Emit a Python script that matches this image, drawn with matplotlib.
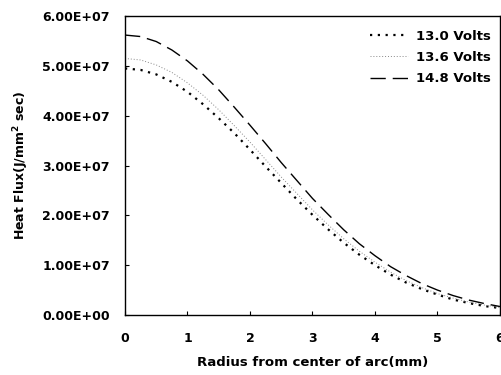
import numpy as np
import matplotlib
matplotlib.use('Agg')
import matplotlib.pyplot as plt
from matplotlib.ticker import FuncFormatter

plt.rcParams['font.family'] = ['DejaVu Sans']
plt.rcParams['font.weight'] = 'bold'

radius = [0, 0.25, 0.5, 0.75, 1, 1.25, 1.5, 1.75, 2, 2.25, 2.5, 2.75, 3,
          3.25, 3.5, 3.75, 4, 4.25, 4.5, 4.75, 5, 5.25, 5.5, 5.75, 6]
# heat flux in units of 1e7
flux_130 = [4.95, 4.92, 4.83, 4.68, 4.48, 4.23, 3.95, 3.65, 3.32, 2.98, 2.65, 2.32, 2.01,
            1.72, 1.45, 1.21, 1.00, 0.81, 0.65, 0.52, 0.41, 0.31, 0.24, 0.18, 0.14]
flux_136 = [5.15, 5.12, 5.02, 4.87, 4.66, 4.41, 4.12, 3.80, 3.47, 3.12, 2.77, 2.44, 2.11,
            1.81, 1.53, 1.28, 1.06, 0.86, 0.69, 0.55, 0.43, 0.34, 0.26, 0.20, 0.15]
flux_148 = [5.62, 5.59, 5.49, 5.32, 5.10, 4.83, 4.52, 4.17, 3.81, 3.44, 3.06, 2.70, 2.34,
            2.02, 1.71, 1.43, 1.19, 0.97, 0.79, 0.63, 0.50, 0.39, 0.30, 0.23, 0.17]
labels = ['13.0 Volts', '13.6 Volts', '14.8 Volts']

r = np.array(radius)
fig = plt.figure(figsize=(5.02, 3.75), dpi=100)
ax = fig.add_axes([0.249, 0.16, 0.747, 0.797])

ax.plot(r, np.array(flux_130) * 1e7, color='black', lw=1.6, linestyle=(0, (1, 2.5)), label=labels[0])
ax.plot(r, np.array(flux_136) * 1e7, color='#888888', lw=0.7, linestyle=(0, (1, 2)), label=labels[1])
ax.plot(r, np.array(flux_148) * 1e7, color='black', lw=1.0, linestyle=(0, (11, 5)), label=labels[2])

ax.set_xlim(0, 6)
ax.set_ylim(0, 6e7)
ax.set_xticks(range(7))
ax.set_yticks(np.arange(0, 6.1e7, 1e7))
ax.yaxis.set_major_formatter(FuncFormatter(lambda v, p: f'{v:.2E}'))
ax.tick_params(direction='in', length=3, labelsize=9)
ax.tick_params(axis='y', pad=11)
ax.tick_params(axis='x', pad=12)
for s in ax.spines.values():
    s.set_linewidth(1.0)

ax.set_xlabel('Radius from center of arc(mm)', fontsize=9.5, fontweight='bold', labelpad=8)
ax.set_ylabel('Heat Flux(J/mm$^\\mathbf{2}$ sec)', fontsize=9, fontweight='bold', labelpad=8)

leg = ax.legend(loc='upper right', bbox_to_anchor=(1.0, 0.985), frameon=False, fontsize=9.5,
                handlelength=2.9, handletextpad=0.6, labelspacing=0.62, borderaxespad=0.3)

fig.savefig('out.png', dpi=100)
